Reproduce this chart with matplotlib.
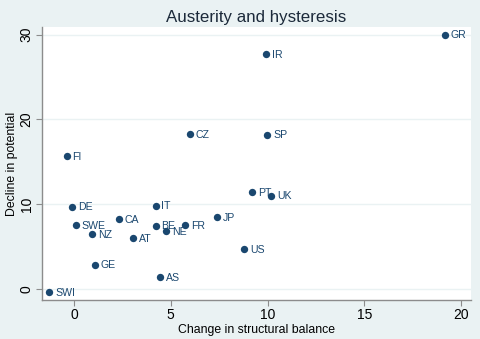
import matplotlib
matplotlib.use("Agg")
import matplotlib.pyplot as plt

# Country codes and their values
countries = ["GR", "IR", "CZ", "SP", "FI", "PT", "UK", "DE", "IT", "CA", "JP",
             "SWE", "BE", "FR", "NE", "NZ", "AT", "US", "GE", "AS", "SWI"]
structural_change = [19.17, 9.92, 6.0, 9.99, -0.38, 9.2, 10.18, -0.09, 4.22, 2.31, 7.37,
                     0.09, 4.22, 5.74, 4.75, 0.95, 3.05, 8.79, 1.09, 4.44, -1.27]
potential_decline = [30.0, 27.7, 18.3, 18.2, 15.7, 11.45, 11.0, 9.7, 9.84, 8.23, 8.46,
                     7.56, 7.48, 7.52, 6.81, 6.49, 6.02, 4.69, 2.87, 1.42, -0.39]
x_ticks = [0, 5, 10, 15, 20]
y_ticks = [0, 10, 20, 30]

navy = "#1a476f"
bg = "#eaf2f3"
axis_gray = "#8c8c8c"

plt.rcParams["font.family"] = ["Liberation Sans", "DejaVu Sans"]

fig = plt.figure(figsize=(4.8, 3.39), dpi=100, facecolor=bg)
ax = fig.add_axes([0.0875, 0.115, 0.8935, 0.805])
ax.set_facecolor("white")

ax.scatter(structural_change, potential_decline, s=28, color=navy, zorder=3, linewidths=0)
for name, xv, yv in zip(countries, structural_change, potential_decline):
    ax.annotate(name, (xv, yv), xytext=(4.2, -0.5), textcoords="offset points",
                ha="left", va="center", fontsize=7.6, color=navy, zorder=4)

ax.set_xlim(-1.65, 20.5)
ax.set_ylim(-1.3, 30.9)
ax.set_xticks(x_ticks)
ax.set_yticks(y_ticks)
ax.grid(axis="y", color=bg, linewidth=1.0, zorder=0)
ax.set_axisbelow(True)

for side in ("top", "right"):
    ax.spines[side].set_visible(False)
for side in ("left", "bottom"):
    ax.spines[side].set_color(axis_gray)
    ax.spines[side].set_linewidth(1.0)

ax.tick_params(axis="both", direction="out", length=4, width=0.8, color=axis_gray,
               labelsize=10, labelcolor="black", pad=2)
plt.setp(ax.get_yticklabels(), rotation=90, va="center")

ax.set_xlabel("Change in structural balance", fontsize=8.8, labelpad=1)
ax.set_ylabel("Decline in potential", fontsize=8.8, labelpad=1)
ax.set_title("Austerity and hysteresis", fontsize=12.2, color="#1c2a3a", pad=4)

fig.savefig("out.png", dpi=100, facecolor=bg)
